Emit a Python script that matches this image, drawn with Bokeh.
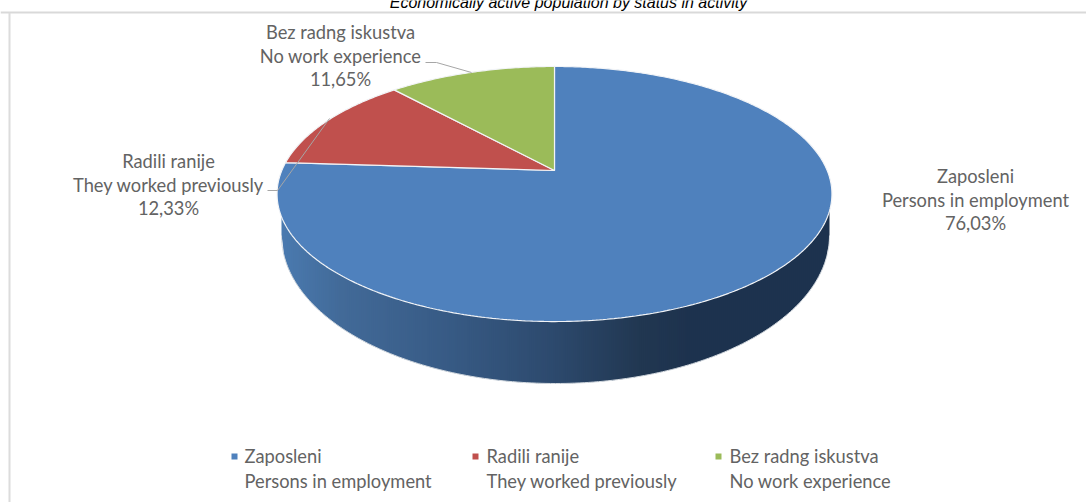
import math
from bokeh.plotting import figure
from bokeh.embed import file_html
from bokeh.resources import INLINE
from bokeh.core.properties import value

categories = ["Zaposleni", "Radili ranije", "Bez radng iskustva"]
categories_en = ["Persons in employment", "They worked previously", "No work experience"]
shares = [76.03, 12.33, 11.65]
colors = ["#4f81bd", "#c0504d", "#9bbb59"]
title_text = "Economically active population by status in activity"

W, H = 1086, 502
FONT = value("Lato")
GREY = "#636363"
FS = "18.3px"

p = figure(width=W, height=H, x_range=(0, W), y_range=(H, 0),
           output_backend="svg", toolbar_location=None,
           min_border=0, outline_line_color=None,
           styles={"position": "absolute", "left": "0px", "top": "0px"})
p.axis.visible = False
p.grid.visible = False
p.background_fill_color = "white"

# chart frame
p.line([0, W], [12, 12], line_color="#d9d9d9", line_width=2)
p.line([9, 9], [12, H], line_color="#dcdcdc", line_width=2)

# projection of the pie's top face: unit circle seen in perspective
APEX_X, APEX_Y = 554.0, 170.0
A, B, K = 272.7, 123.2, 0.1843

def rim(theta):
    u, v = math.sin(theta), math.cos(theta)
    d = 1 + K * v
    return APEX_X + A * u / d, APEX_Y - B * v / d

# lower rim of the wall
LOW_X, LOW_Y, LOW_RX, LOW_RY = 555.0, 235.0, 274.0, 148.0

def lerp_hex(c1, c2, t):
    a = [int(c1[i:i + 2], 16) for i in (1, 3, 5)]
    b = [int(c2[i:i + 2], 16) for i in (1, 3, 5)]
    return "#%02x%02x%02x" % tuple(round(x + (y - x) * t) for x, y in zip(a, b))

stops = [(281, "#4a7aaf"), (340, "#426a98"), (450, "#375a84"), (550, "#2d4a6e"),
         (640, "#213751"), (690, "#1d324e"), (830, "#1d324e")]

def wall_color(x):
    for (x0, c0), (x1, c1) in zip(stops, stops[1:]):
        if x <= x1:
            return lerp_hex(c0, c1, (x - x0) / (x1 - x0))
    return stops[-1][1]

# lower-rim arc, used for the wall's strips and its faint highlight
def low_y(x):
    return LOW_Y + LOW_RY * math.sqrt(max(0, 1 - ((x - LOW_X) / LOW_RX) ** 2))

xs, ys, cs = [], [], []
x = LOW_X - LOW_RX
right = LOW_X + LOW_RX
while x < right:
    nx = min(x + 2, right)
    ox = min(x + 3.5, right)   # strips overlap so no seams show
    xs.append([x, ox, ox, x])
    ys.append([APEX_Y + 30, APEX_Y + 30, low_y(ox), low_y(x)])
    cs.append(wall_color(x))
    x = nx
p.patches(xs, ys, fill_color=cs, line_color=None)

arc = [i * math.pi / 180 for i in range(0, 181)]
p.line([LOW_X + LOW_RX * math.cos(t) for t in arc],
       [LOW_Y + LOW_RY * math.sin(t) for t in arc],
       line_color="#d4dae0", line_width=1)

# top face slices, computed from the shares
total = sum(shares)
start = 0.0
for s, col in zip(shares, colors):
    end = start + s / total * 2 * math.pi
    n = max(4, int((end - start) * 90))
    pts = [rim(start + (end - start) * i / n) for i in range(n + 1)]
    p.patch([APEX_X] + [q[0] for q in pts], [APEX_Y] + [q[1] for q in pts],
            fill_color=col, line_color="#f2f4f7", line_width=1.2)
    start = end

# leader lines
p.line([425, 436, 471], [62, 62, 72], line_color="#a6a6a6", line_width=1)
p.line([267, 277, 329], [190, 190, 118], line_color="#a6a6a6", line_width=1)

# data labels
label_pos = [(975, 175.5), (168, 160.5), (340, 31.5)]
label_step = 23.5
for cat, eng, s, (lx, ly) in zip(categories, categories_en, shares, label_pos):
    lines = [cat, eng, f"{s:.2f}%".replace(".", ",")]
    p.text([lx] * 3, [ly + i * label_step for i in range(3)], text=lines,
           text_font=FONT, text_font_size=FS, text_color=GREY,
           text_align="center", text_baseline="middle")

# legend
legend_marker_x = [234, 475, 718]
legend_text_x = [244, 486, 729]
p.scatter(legend_marker_x, [456] * 3, marker="square", size=6, fill_color=colors, line_color=None)
p.text(legend_text_x, [455.5] * 3, text=categories, text_font=FONT, text_font_size=FS,
       text_color=GREY, text_align="left", text_baseline="middle")
p.text(legend_text_x, [480.5] * 3, text=categories_en, text_font=FONT, text_font_size=FS,
       text_color=GREY, text_align="left", text_baseline="middle")

# title
p.text([568], [1.5], text=[title_text], text_font=value("Liberation Sans"), text_font_size="16px",
       text_font_style="italic", text_color="#000000", text_align="center", text_baseline="alphabetic")

open("out.html", "w").write(file_html(p, INLINE))
